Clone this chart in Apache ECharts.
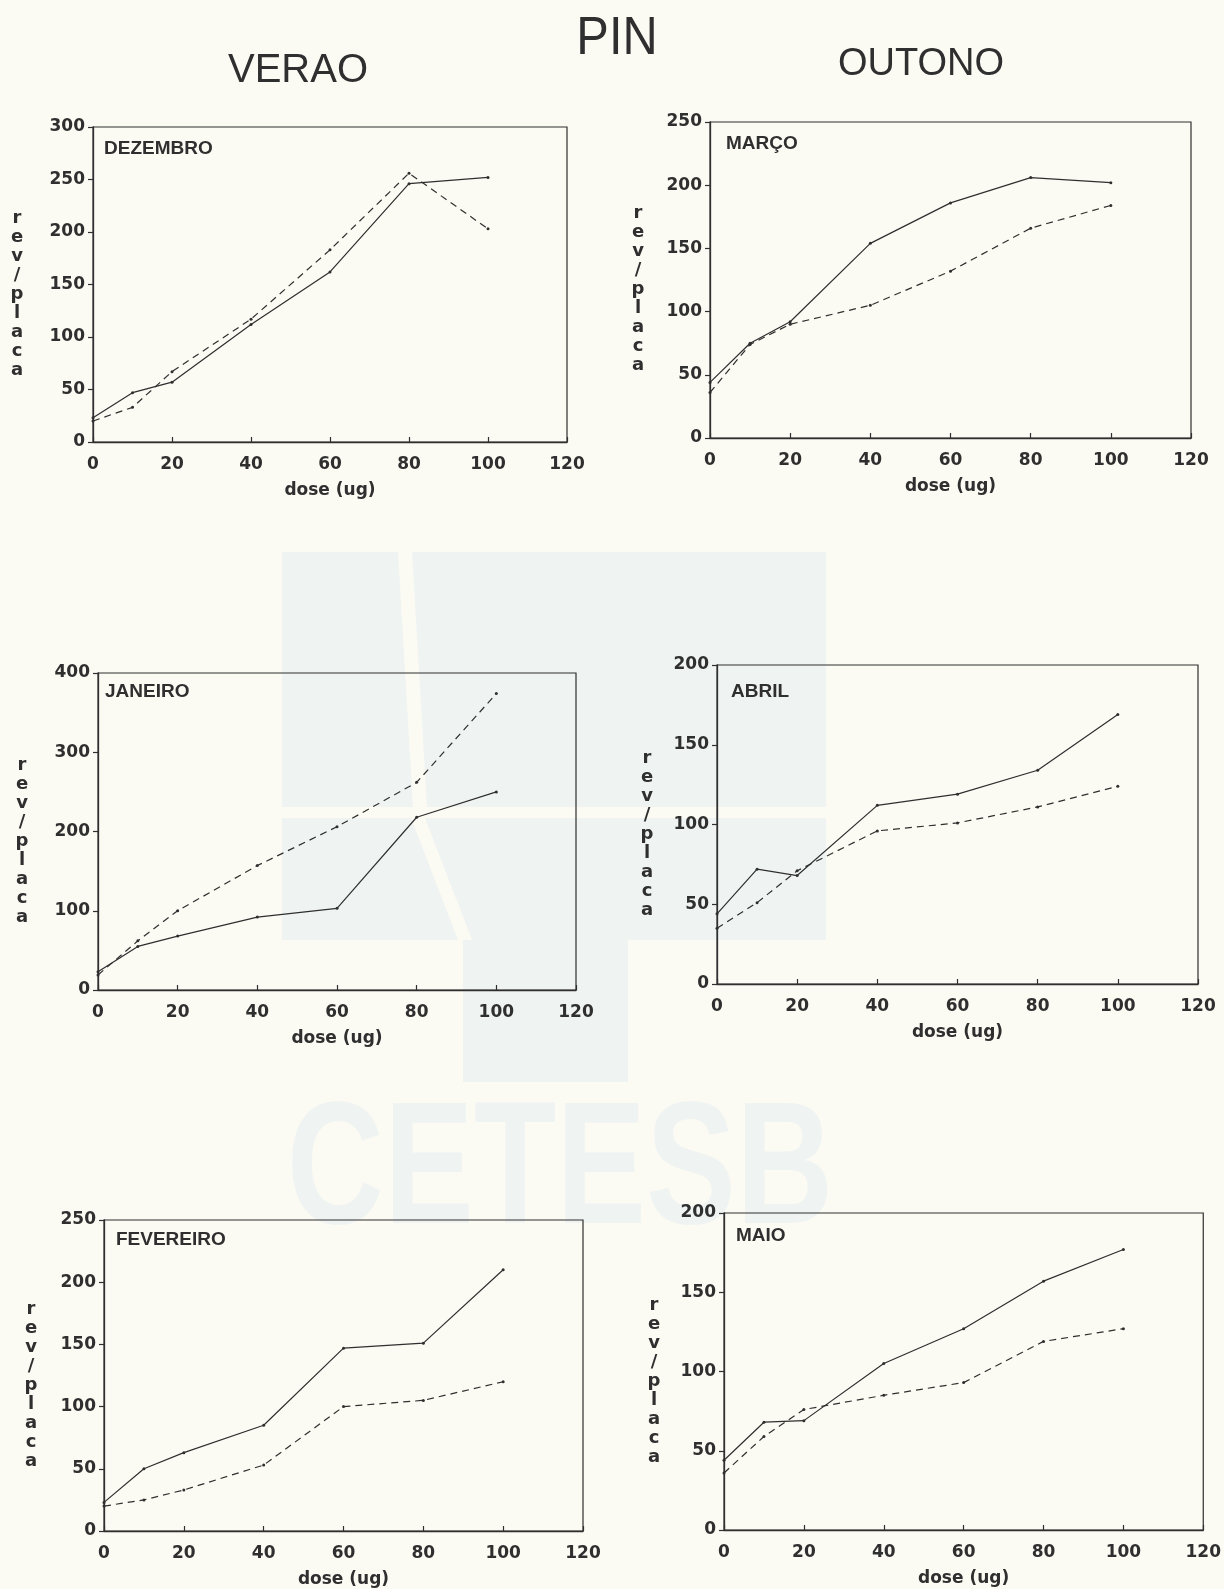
<!DOCTYPE html>
<html><head><meta charset="utf-8">
<script src="https://cdn.jsdelivr.net/npm/echarts@6/dist/echarts.min.js"></script>
<style>html,body{margin:0;padding:0;background:#fbfaf3}#c{width:1224px;height:1589px}</style>
</head><body><div id="c"></div>
<script>
// ---- data ----
const doses = [0, 10, 20, 40, 60, 80, 100];
const xTicks = [0, 20, 40, 60, 80, 100, 120];
const mainTitle = 'PIN';
const seasonTitles = ['VERAO', 'OUTONO'];
const months = ['DEZEMBRO', 'MARÇO', 'JANEIRO', 'ABRIL', 'FEVEREIRO', 'MAIO'];
const yAxisTitle = 'rev/placa';
const xAxisTitle = 'dose (ug)';
const watermarkText = 'CETESB';

const dezSolid  = [23, 47, 57, 112, 162, 246, 252];
const dezDashed = [20, 33, 67, 117, 183, 256, 203];
const marSolid  = [44, 75, 92, 154, 186, 206, 202];
const marDashed = [36, 74, 90, 105, 132, 166, 184];
const janSolid  = [23, 55, 68, 92, 103, 218, 250];
const janDashed = [19, 62, 100, 157, 206, 262, 374];
const abrSolid  = [44, 72, 68, 112, 119, 134, 169];
const abrDashed = [35, 51, 71, 96, 101, 111, 124];
const fevSolid  = [23, 50, 63, 85, 147, 151, 210];
const fevDashed = [20, 25, 33, 53, 100, 105, 120];
const maiSolid  = [44, 68, 69, 105, 127, 157, 177];
const maiDashed = [36, 59, 76, 85, 93, 119, 127];

const yMax  = [300, 250, 400, 200, 250, 200];
const yStep = [50, 50, 100, 50, 50, 50];

const solids  = [dezSolid, marSolid, janSolid, abrSolid, fevSolid, maiSolid];
const dasheds = [dezDashed, marDashed, janDashed, abrDashed, fevDashed, maiDashed];

// ---- layout (positions / styles only) ----
const layouts = [
  {left: 93,  top: 127,  width: 474, height: 315, nameGap: 76, dx: 11, dy: 15},
  {left: 710, top: 122,  width: 481, height: 316, nameGap: 72, dx: 16, dy: 15},
  {left: 98,  top: 673,  width: 478, height: 317, nameGap: 76, dx: 7,  dy: 12},
  {left: 717, top: 665,  width: 481, height: 319, nameGap: 70, dx: 14, dy: 20},
  {left: 104, top: 1220, width: 479, height: 315, nameGap: 73, dx: 12, dy: 13},
  {left: 724, top: 1213, width: 480, height: 317, nameGap: 70, dx: 12, dy: 16}
];
const INK = '#2f2f2f';
const BG = '#fbfaf3';
const TICKFONT = 'DejaVu Sans';

const grids = [], xAxes = [], yAxes = [], series = [], graphics = [];

// faint watermark (behind everything)
const WM = '#eff4f2';
graphics.push(
  {type: 'rect', z: -10, shape: {x: 282, y: 552, width: 544, height: 255}, style: {fill: WM}},
  {type: 'rect', z: -10, shape: {x: 282, y: 818, width: 544, height: 122}, style: {fill: WM}},
  {type: 'rect', z: -10, shape: {x: 463, y: 940, width: 165, height: 142}, style: {fill: WM}},
  {type: 'polygon', z: -9, shape: {points: [[398, 552], [412, 552], [427, 807], [413, 807]]}, style: {fill: BG}},
  {type: 'polygon', z: -9, shape: {points: [[411, 818], [425, 818], [472, 940], [458, 940]]}, style: {fill: BG}},
  {type: 'text', z: -10, x: 560, y: 1175, scaleX: 0.77,
   style: {text: watermarkText, font: 'bold 175px "Liberation Sans", Arial', fill: WM, align: 'center', verticalAlign: 'middle'}}
);

// headers
graphics.push(
  {type: 'text', x: 617, y: 39, scaleX: 0.92,
   style: {text: mainTitle, font: '53px "Liberation Sans", Arial', fill: INK, align: 'center', verticalAlign: 'middle'}},
  {type: 'text', x: 298, y: 71,
   style: {text: seasonTitles[0], font: '40px "Liberation Sans", Arial', fill: INK, align: 'center', verticalAlign: 'middle'}},
  {type: 'text', x: 921, y: 65,
   style: {text: seasonTitles[1], font: '38px "Liberation Sans", Arial', fill: INK, align: 'center', verticalAlign: 'middle'}}
);

layouts.forEach((L, i) => {
  grids.push({left: L.left, top: L.top, width: L.width, height: L.height,
    show: true, borderColor: INK, borderWidth: 1.2, backgroundColor: 'transparent'});
  xAxes.push({
    type: 'value', gridIndex: i, min: xTicks[0], max: xTicks[xTicks.length - 1],
    interval: xTicks[1] - xTicks[0],
    name: xAxisTitle, nameLocation: 'middle', nameGap: 40,
    nameTextStyle: {fontFamily: TICKFONT, fontWeight: 'bold', fontSize: 17, color: INK},
    axisLine: {show: true, lineStyle: {color: INK, width: 1.3}},
    axisTick: {show: true, inside: true, length: 5, lineStyle: {color: INK, width: 1.2}},
    axisLabel: {fontFamily: TICKFONT, fontWeight: 'bold', fontSize: 17, color: INK, margin: 14},
    splitLine: {show: false}
  });
  yAxes.push({
    type: 'value', gridIndex: i, min: 0, max: yMax[i], interval: yStep[i],
    name: ' \n' + yAxisTitle.split('').join('\n'), nameLocation: 'middle', nameGap: L.nameGap, nameRotate: 0,
    nameTextStyle: {fontFamily: TICKFONT, fontWeight: 'bold', fontSize: 18, color: INK,
      lineHeight: 19, align: 'center', verticalAlign: 'middle'},
    axisLine: {show: true, lineStyle: {color: INK, width: 1.3}},
    axisTick: {show: true, inside: false, length: 5, lineStyle: {color: INK, width: 1.2}},
    axisLabel: {fontFamily: TICKFONT, fontWeight: 'bold', fontSize: 17, color: INK, margin: 8},
    splitLine: {show: false}
  });
  series.push({
    type: 'line', xAxisIndex: i, yAxisIndex: i,
    data: doses.map((d, k) => [d, solids[i][k]]),
    symbol: 'circle', symbolSize: 3, showSymbol: true,
    itemStyle: {color: INK}, lineStyle: {color: INK, width: 1.2, type: 'solid'}
  });
  series.push({
    type: 'line', xAxisIndex: i, yAxisIndex: i,
    data: doses.map((d, k) => [d, dasheds[i][k]]),
    symbol: 'circle', symbolSize: 3, showSymbol: true,
    itemStyle: {color: INK}, lineStyle: {color: INK, width: 1.2, type: [7, 5]}
  });
  graphics.push({type: 'text', x: L.left + L.dx, y: L.top + L.dy - 3,
    style: {text: months[i], font: 'bold 19px "Liberation Sans", Arial', fill: INK, align: 'left', verticalAlign: 'top'}});
});

const chart = echarts.init(document.getElementById('c'), null, {renderer: 'canvas'});
chart.setOption({
  backgroundColor: BG,
  animation: false,
  grid: grids, xAxis: xAxes, yAxis: yAxes, series: series,
  graphic: {elements: graphics}
});
</script></body></html>
